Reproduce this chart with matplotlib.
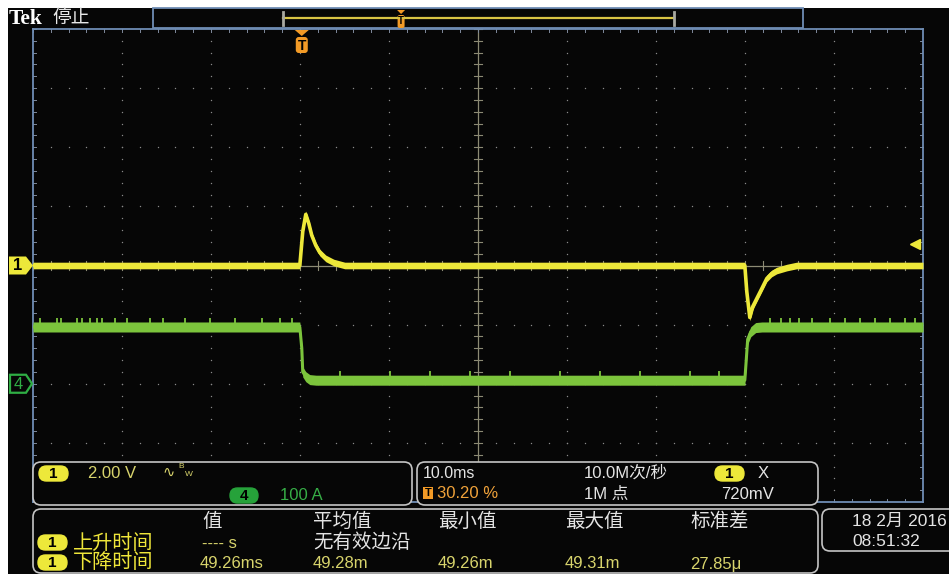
import numpy as np
import matplotlib
matplotlib.use("Agg")
import matplotlib.pyplot as plt
from matplotlib.patches import FancyBboxPatch, Rectangle, Polygon

plt.rcParams['font.family'] = ['Liberation Sans', 'Noto Sans CJK SC', 'DejaVu Sans']

# ---------------- data ----------------
TIME_DIV_MS = 10.0          # 10.0 ms / div
TRIG_POS_PCT = 30.20        # trigger position %
CH1_V_DIV = 2.00            # V / div
CH4_A_DIV = 100.0           # A / div
CH1_OFFSET_DIV = 0.0
CH4_OFFSET_DIV = -2.0
TRIG_LEVEL_V = 0.720

# channel 1 (voltage, V) vs time (ms, trigger at 0)
ch1_t = [-30.2, -0.22, 0.11, 0.45, 0.79, 1.12, 1.57, 2.02, 2.70, 3.60, 4.83,
         49.78, 50.00, 50.34, 50.67, 51.12, 51.69, 52.25, 52.80, 53.37, 54.50, 55.60, 69.8]
ch1_v = [0.0, 0.0, 1.15, 1.73, 1.42, 1.02, 0.68, 0.44, 0.24, 0.10, 0.0,
         0.0, -0.88, -1.76, -1.39, -1.12, -0.78, -0.44, -0.27, -0.17, -0.07, 0.0, 0.0]

# channel 4 (current, A) vs time (ms)
ch4_t = [-30.2, -0.22, 0.00, 0.11, 0.45, 0.90, 1.60, 49.78, 49.94, 50.10, 50.45, 51.00, 51.70, 69.8]
ch4_i = [96.0, 96.0, 60.0, 20.0, 12.0, 7.0, 6.0, 6.0, 40.0, 75.0, 88.0, 95.0, 96.0, 96.0]

# small noise glitches on the channel 4 trace (time ms, level A)
ch4_glitch_t = [-29.4, -27.5, -27.0, -25.3, -24.7, -23.8, -23.0, -22.4, -21.0, -19.6, -17.1,
                -15.6, -13.1, -10.3, -7.5, -4.5, -2.5, -1.1,
                4.3, 9.9, 14.4, 18.9, 23.4, 29.0, 33.5, 38.0, 43.6, 46.9,
                52.6, 53.9, 54.8, 55.9, 57.3, 59.3, 61.0, 62.7, 64.4, 66.1, 67.8, 68.9]
ch4_glitch_i = [96.0] * 18 + [6.0] * 10 + [96.0] * 12

# readouts
ch1_scale_txt = "2.00 V"
ch4_scale_txt = "100 A"
time_txt = "10.0ms"
trig_pos_txt = "30.20 %"
rate_txt = "10.0M次/秒"
points_txt = "1M 点"
trig_lvl_txt = "720mV"
meas_headers = ["值", "平均值", "最小值", "最大值", "标准差"]
meas_rise = ["---- s", "无有效边沿"]
meas_fall = ["49.26ms", "49.28m", "49.26m", "49.31m", "27.85μ"]
date_txt = "18 2月 2016"
time_of_day = "08:51:32"

# ---------------- figure ----------------
W, H = 949, 574
fig = plt.figure(figsize=(W / 100, H / 100), dpi=100)
fig.patch.set_facecolor('white')

bg = fig.add_axes([0, 0, 1, 1], zorder=0)
bg.set_xlim(0, W); bg.set_ylim(H, 0); bg.axis('off')
bg.add_patch(Rectangle((8, 8), W, H, fc='#060606', ec='none'))

GX0, GX1, GY0, GY1 = 33, 923, 29, 502
FRAME = '#6f8db4'
GRID = '#8a8a8a'

ax = fig.add_axes([GX0 / W, (H - GY1) / H, (GX1 - GX0) / W, (GY1 - GY0) / H], zorder=1)
ax.set_facecolor('none')
t0 = -TRIG_POS_PCT / 100 * 10 * TIME_DIV_MS
t1 = t0 + 10 * TIME_DIV_MS
ax.set_xlim(t0, t1)
ax.set_ylim(-4, 4)
ax.set_xticks([]); ax.set_yticks([])
for s in ax.spines.values():
    s.set_color(FRAME); s.set_linewidth(1.3)

# graticule dots
xmaj = t0 + np.arange(1, 10) * TIME_DIV_MS
ymaj = np.arange(-3, 4)
yminor = np.arange(-4, 4.001, 0.2)
xminor = t0 + np.arange(0, 50.001) * TIME_DIV_MS / 5
for xv in xmaj:
    if abs(xv - (t0 + 5 * TIME_DIV_MS)) < 1e-6:
        continue
    ax.scatter(np.full_like(yminor, xv), yminor, s=1.0, c=GRID, lw=0, zorder=2)
for yv in ymaj:
    if yv == 0:
        continue
    ax.scatter(xminor, np.full_like(xminor, yv), s=1.0, c=GRID, lw=0, zorder=2)
# center crosshair
xc = t0 + 5 * TIME_DIV_MS
CROSS = '#8c8a74'
ax.axvline(xc, color=CROSS, lw=0.9, zorder=2)
ax.axhline(0, color=CROSS, lw=0.9, zorder=2)
dx = 4 / 89 * TIME_DIV_MS
dy = 4 / 59
for yv in yminor:
    ax.plot([xc - dx, xc + dx], [yv, yv], color=CROSS, lw=0.8, zorder=2)
    ax.plot([t1, t1 - dx * 0.7], [yv, yv], color='#7f8a9c', lw=0.7, zorder=2)
    ax.plot([t0, t0 + dx * 0.7], [yv, yv], color='#7f8a9c', lw=0.7, zorder=2)
for xv in xminor:
    ax.plot([xv, xv], [-dy, dy], color=CROSS, lw=0.8, zorder=2)
    ax.plot([xv, xv], [4, 4 - dy * 0.7], color='#7f8a9c', lw=0.7, zorder=2)
    ax.plot([xv, xv], [-4, -4 + dy * 0.7], color='#7f8a9c', lw=0.7, zorder=2)

# traces
GREEN = '#7cc43c'
YELLOW = '#ede83a'
c4 = np.array(ch4_i) / CH4_A_DIV + CH4_OFFSET_DIV
hw4 = 5.0 / 59
ax.fill_between(ch4_t, c4 - hw4, c4 + hw4, color=GREEN, lw=0, zorder=3)
ax.plot(ch4_t, c4, color=GREEN, lw=2.2, zorder=3, solid_joinstyle='round')
g4 = np.array(ch4_glitch_i) / CH4_A_DIV + CH4_OFFSET_DIV
ax.vlines(ch4_glitch_t, g4 + hw4 - 0.01, g4 + hw4 + 4 / 59, color=GREEN, lw=1.3, zorder=3)

c1 = np.array(ch1_v) / CH1_V_DIV + CH1_OFFSET_DIV
hw1 = 3.3 / 59
ax.fill_between(ch1_t, c1 - hw1, c1 + hw1, color=YELLOW, lw=0, zorder=4)
ax.plot(ch1_t, c1, color=YELLOW, lw=2.6, zorder=4, solid_joinstyle='round')

# trigger level arrow
ax.plot([t1 - 0.9], [TRIG_LEVEL_V / CH1_V_DIV + CH1_OFFSET_DIV], marker='<', ms=7,
        color=YELLOW, mec=YELLOW, zorder=5, clip_on=False)

# ---------------- overlay ----------------
ov = fig.add_axes([0, 0, 1, 1], zorder=3)
ov.set_xlim(0, W); ov.set_ylim(H, 0); ov.axis('off')
ov.patch.set_alpha(0)

def px_y(div):
    return (GY0 + GY1) / 2 - div * (GY1 - GY0) / 8

def pill(x0, y0, w, h, fc, txt, tc='black', ec=None, size=11):
    ov.add_patch(FancyBboxPatch((x0, y0), w, h, boxstyle=f"round,pad=0,rounding_size={h / 2}",
                                fc=fc, ec=ec or fc, lw=1))
    ov.text(x0 + w / 2, y0 + h / 2 + 0.5, txt, color=tc, fontsize=size, fontweight='bold',
            ha='center', va='center')

def panel(x0, y0, w, h):
    ov.add_patch(FancyBboxPatch((x0, y0), w, h, boxstyle="round,pad=0,rounding_size=8",
                                fc='#060606', ec='#c4c4c4', lw=1.2))

# top bar
ov.text(9, 18.5, "Tek", color='white', fontsize=15.5, fontweight='bold',
        family=['Liberation Serif'], ha='left', va='center')
ov.text(52, 18, "停止", color='#e8e8e8', fontsize=13.5, ha='left', va='center')
ov.add_patch(Rectangle((153, 8), 650, 20, fc='#060606', ec=FRAME, lw=1.3))
bx0, bx1 = 283, 674
ov.plot([bx0, bx1], [18, 18], color='#d8c444', lw=1.6)
ov.plot([bx0, bx0], [12, 25], color='#a8a8a0', lw=2)
ov.plot([bx1, bx1], [12, 25], color='#a8a8a0', lw=2)
tx_small = bx0 + TRIG_POS_PCT / 100 * (bx1 - bx0)
ORANGE = '#f29a26'
ov.add_patch(Polygon([[tx_small - 4, 10], [tx_small + 4, 10], [tx_small, 14]], closed=True, fc=ORANGE, ec='none'))
ov.add_patch(FancyBboxPatch((tx_small - 3.5, 15), 7, 13, boxstyle="round,pad=0,rounding_size=2", fc=ORANGE, ec='none'))
ov.text(tx_small, 21.5, "T", color='black', fontsize=7, fontweight='bold', ha='center', va='center')

# trigger marker on graticule
tx = GX0 + TRIG_POS_PCT / 100 * (GX1 - GX0)
ov.add_patch(Polygon([[tx - 7, 30], [tx + 7, 30], [tx, 36]], closed=True, fc=ORANGE, ec='none'))
ov.add_patch(FancyBboxPatch((tx - 6, 37), 12, 16, boxstyle="round,pad=0,rounding_size=3", fc=ORANGE, ec='none'))
ov.text(tx, 45.5, "T", color='black', fontsize=10, fontweight='bold', ha='center', va='center')

# channel markers
y1 = px_y(CH1_OFFSET_DIV)
ov.add_patch(Polygon([[9, y1 - 9], [26, y1 - 9], [33, y1], [26, y1 + 9], [9, y1 + 9]], closed=True,
                     fc=YELLOW, ec='none'))
ov.text(18, y1 + 0.5, "1", color='black', fontsize=12, fontweight='bold', ha='center', va='center')
y4 = px_y(CH4_OFFSET_DIV)
ov.add_patch(Polygon([[10, y4 - 9], [26, y4 - 9], [32, y4], [26, y4 + 9], [10, y4 + 9]], closed=True,
                     fc='#060606', ec='#2fae44', lw=1.6))
ov.text(18, y4 + 0.5, "4", color='#2fae44', fontsize=12, ha='center', va='center')

# bottom panels
panel(33, 462, 379, 43)
panel(417, 462, 401, 43)
panel(33, 509, 785, 64)
panel(822, 509, 150, 42)

KHAKI = '#d8d46c'
WHITE = '#e4e4e4'
pill(39, 466, 29, 15, YELLOW, "1")
ov.text(88, 473.5, ch1_scale_txt, color=KHAKI, fontsize=12, ha='left', va='center')
ov.text(162, 472, "∿", color=KHAKI, fontsize=10.5, family=['DejaVu Sans'], ha='left', va='center')
ov.text(178, 466, "B", color=KHAKI, fontsize=6, ha='left', va='center')
ov.text(185, 475, "W", color=KHAKI, fontsize=6, ha='left', va='center')
pill(230, 488, 28, 15, '#26a23a', "4")
ov.text(280, 495.5, ch4_scale_txt, color='#36ae46', fontsize=12, ha='left', va='center')

ov.text(423, 473.5, time_txt, color=WHITE, fontsize=11.5, ha='left', va='center')
ov.add_patch(Rectangle((423, 487), 10, 12, fc=ORANGE, ec='none'))
ov.text(428, 493.5, "T", color='black', fontsize=8, fontweight='bold', ha='center', va='center')
ov.text(437, 494, trig_pos_txt, color='#f0a23a', fontsize=12, ha='left', va='center')
ov.text(584, 473, rate_txt, color=WHITE, fontsize=12, ha='left', va='center')
ov.text(584, 494, points_txt, color=WHITE, fontsize=12, ha='left', va='center')
pill(715, 466, 29, 15, YELLOW, "1")
ov.text(758, 473.5, "X", color=WHITE, fontsize=12, ha='left', va='center')
ov.text(721, 494.5, trig_lvl_txt, color=WHITE, fontsize=12, ha='left', va='center')

hx = [202, 313, 438, 565, 690]
for x, s in zip(hx, meas_headers):
    ov.text(x, 522, s, color=WHITE, fontsize=14, ha='left', va='center')
pill(38, 535, 29, 15, YELLOW, "1")
pill(38, 555, 29, 15, YELLOW, "1")
ov.text(73, 543, "上升时间", color='#efe63a', fontsize=14.5, ha='left', va='center')
ov.text(73, 563, "下降时间", color='#efe63a', fontsize=14.5, ha='left', va='center')
ov.text(202, 543.5, meas_rise[0], color=KHAKI, fontsize=12, ha='left', va='center')
ov.text(313, 543, meas_rise[1], color=WHITE, fontsize=14, ha='left', va='center')
vx = [200, 313, 438, 565, 690]
for x, s in zip(vx, meas_fall):
    ov.text(x, 564, s, color=KHAKI, fontsize=12, ha='left', va='center')

ov.text(852, 521, date_txt, color=WHITE, fontsize=12.5, ha='left', va='center')
ov.text(852, 541.5, time_of_day, color=WHITE, fontsize=12.5, ha='left', va='center')

fig.savefig("out.png", dpi=100, facecolor=fig.get_facecolor())
